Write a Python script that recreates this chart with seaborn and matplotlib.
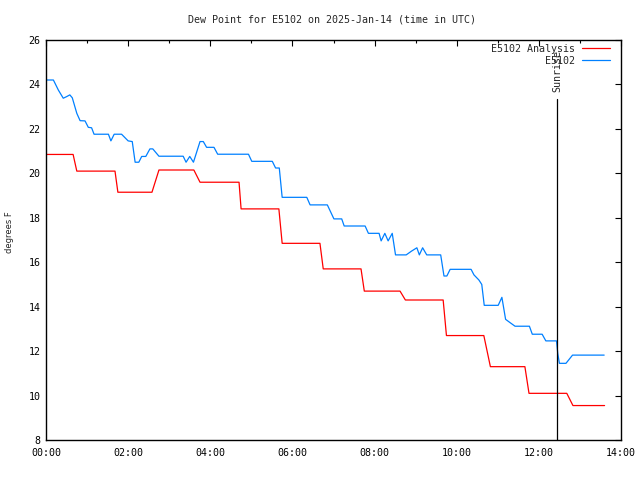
import matplotlib
matplotlib.use("Agg")
import matplotlib.pyplot as plt
import seaborn as sns
import pandas as pd

# ---- data ----
analysis_t = [0.0, 0.66, 0.75, 1.68, 1.75, 2.58, 2.75, 3.6, 3.75, 4.7, 4.75, 5.67, 5.75,
              6.67, 6.75, 7.67, 7.75, 8.62, 8.75, 9.67, 9.75, 10.66, 10.82, 11.66, 11.76,
              12.68, 12.83, 13.6]
analysis_v = [20.85, 20.85, 20.1, 20.1, 19.15, 19.15, 20.15, 20.15, 19.6, 19.6, 18.4, 18.4, 16.85,
              16.85, 15.7, 15.7, 14.7, 14.7, 14.3, 14.3, 12.7, 12.7, 11.3, 11.3, 10.1,
              10.1, 9.55, 9.55]

obs_t = [0.0, 0.18, 0.3, 0.42, 0.5, 0.58, 0.64, 0.75, 0.83, 0.95, 1.03, 1.11, 1.17, 1.52, 1.58,
         1.66, 1.84, 2.0, 2.1, 2.17, 2.26, 2.33, 2.43, 2.53, 2.6, 2.75, 3.34, 3.41, 3.5, 3.59,
         3.75, 3.83, 3.91, 4.09, 4.18, 4.93, 5.01, 5.51, 5.59, 5.68, 5.75, 6.35, 6.43, 6.85,
         7.01, 7.2, 7.26, 7.77, 7.85, 8.11, 8.16, 8.25, 8.33, 8.43, 8.51, 8.77, 8.9, 9.03,
         9.09, 9.17, 9.27, 9.61, 9.69, 9.76, 9.84, 10.35, 10.42, 10.54, 10.61, 10.67, 11.01,
         11.1, 11.19, 11.3, 11.42, 11.77, 11.84, 12.08, 12.17, 12.43, 12.46, 12.5, 12.66,
         12.82, 13.59]
obs_v = [24.2, 24.2, 23.75, 23.38, 23.45, 23.53, 23.4, 22.7, 22.37, 22.36, 22.07, 22.05, 21.76,
         21.76, 21.46, 21.76, 21.76, 21.46, 21.43, 20.5, 20.5, 20.76, 20.76, 21.1, 21.1, 20.77,
         20.77, 20.5, 20.76, 20.5, 21.43, 21.43, 21.17, 21.17, 20.86, 20.86, 20.54, 20.54,
         20.24, 20.24, 18.92, 18.92, 18.58, 18.58, 17.95, 17.95, 17.63, 17.63, 17.3, 17.3,
         16.96, 17.3, 16.96, 17.3, 16.33, 16.33, 16.5, 16.65, 16.33, 16.65, 16.33, 16.33,
         15.38, 15.38, 15.68, 15.68, 15.43, 15.2, 15.0, 14.06, 14.06, 14.42, 13.43, 13.28,
         13.12, 13.12, 12.76, 12.76, 12.46, 12.46, 11.9, 11.45, 11.45, 11.82, 11.82]

sunrise_t = 12.44
sunrise_top = 23.35
sunrise_label = "Sunrise"

x_ticks = [0, 2, 4, 6, 8, 10, 12, 14]
x_labels = ["00:00", "02:00", "04:00", "06:00", "08:00", "10:00", "12:00", "14:00"]
x_minor = [1, 3, 5, 7, 9, 11, 13]
y_ticks = [8, 10, 12, 14, 16, 18, 20, 22, 24, 26]

title = "Dew Point for E5102 on 2025-Jan-14 (time in UTC)"
ylabel = "degrees F"
series_names = ["E5102 Analysis", "E5102"]
colors = ["#ff0000", "#0080ff"]

# ---- plot ----
sns.set_style("white")
mono = ["DejaVu Sans Mono"]
plt.rcParams["font.family"] = mono

fig = plt.figure(figsize=(6.4, 4.8), dpi=100)
ax = fig.add_axes([46 / 640, 40 / 480, 575 / 640, 400 / 480])

df_a = pd.DataFrame({"t": analysis_t, "v": analysis_v})
df_o = pd.DataFrame({"t": obs_t, "v": obs_v})
sns.lineplot(data=df_a, x="t", y="v", ax=ax, color=colors[0], lw=0.9,
             label=series_names[0], sort=False, estimator=None)
sns.lineplot(data=df_o, x="t", y="v", ax=ax, color=colors[1], lw=0.9,
             label=series_names[1], sort=False, estimator=None)

ax.plot([sunrise_t, sunrise_t], [y_ticks[0], sunrise_top], color="black", lw=0.9)
ax.text(sunrise_t, sunrise_top + 0.3, sunrise_label, rotation=90, ha="center", va="bottom",
        fontsize=7.2, family=mono)

ax.set_xlim(x_ticks[0], x_ticks[-1])
ax.set_ylim(y_ticks[0], y_ticks[-1])
ax.set_xticks(x_ticks)
ax.set_xticklabels(x_labels)
ax.set_xticks(x_minor, minor=True)
ax.set_yticks(y_ticks)
ax.set_yticklabels([str(v) for v in y_ticks])
ax.tick_params(axis="both", which="both", direction="in", top=True, right=True,
               labelsize=7.2, colors="black", width=0.8)
ax.tick_params(axis="both", which="major", length=4.5)
ax.tick_params(axis="x", which="minor", length=2.5)
ax.tick_params(axis="x", which="major", pad=6)
ax.tick_params(axis="y", which="major", pad=4)
ax.set_xlabel("")
ax.set_ylabel("")
for s in ax.spines.values():
    s.set_visible(True)
    s.set_color("black")
    s.set_linewidth(1.0)

leg = ax.legend(loc="upper right", bbox_to_anchor=(0.981, 0.99), frameon=False,
                markerfirst=False, fontsize=7.2, handlelength=2.8, handletextpad=0.7,
                labelspacing=0.2, borderaxespad=0, borderpad=0)

fig.text(332 / 640, 1 - 19 / 480, title, ha="center", va="center", fontsize=7.2, family=mono)
fig.text(10 / 640, 1 - 232 / 480, ylabel, rotation=90, ha="center", va="center",
         fontsize=6.0, family=["DejaVu Sans"])

fig.savefig("out.png", dpi=100)
